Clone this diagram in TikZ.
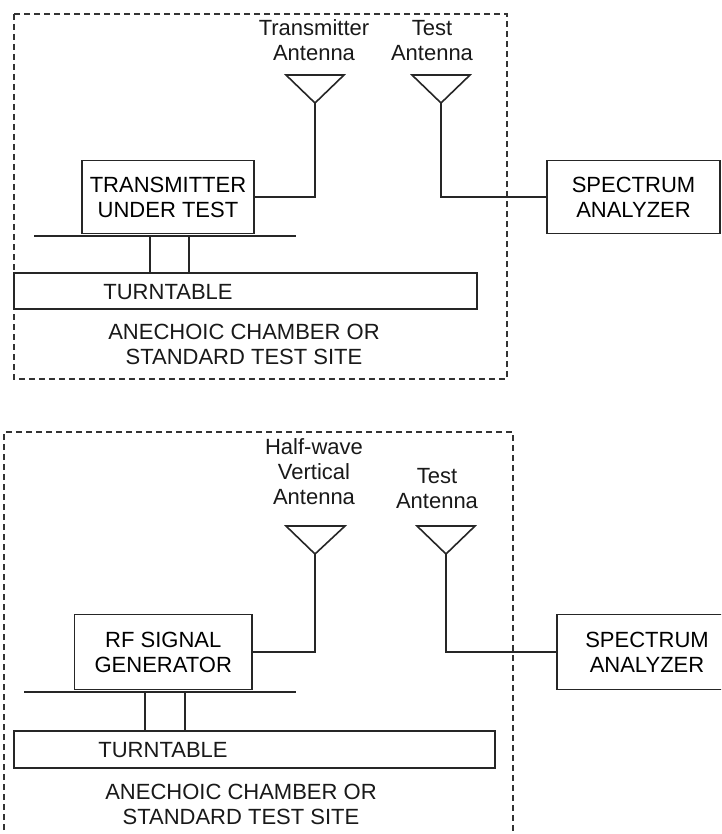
\documentclass[tikz,border=0pt]{standalone}
\usepackage{fontspec}
\setmainfont{Liberation Sans}
\begin{document}
\begin{tikzpicture}[x=1pt,y=-1pt,
  ln/.style={draw=black!85, line width=1.6pt},
  dsh/.style={draw=black!80, line width=1.5pt, dash pattern=on 6pt off 4pt},
  boxn/.style={ln, rectangle, inner sep=0pt, align=center, font=\fontsize{22}{25}\selectfont},
  lbl/.style={inner sep=0pt, align=center, text=black!90, font=\fontsize{22}{25}\selectfont},
  ant/.style={ln, line join=miter}]
\clip (0,0) rectangle (721,834);
\useasboundingbox (0,0) rectangle (721,834);
\fill[white] (0,0) rectangle (721,834);

% ===== top section =====
\draw[dsh] (14,14) rectangle (507,379);
\node[lbl] (lt1) at (314,40.5) {Transmitter\\Antenna};
\node[lbl] (lt2) at (432,40.5) {Test\\Antenna};
\coordinate (a1) at (315,103);
\coordinate (a2) at (441,103);
\draw[ant] (286,75) -- (344,75) -- (a1) -- cycle;
\draw[ant] (412,75) -- (470,75) -- (a2) -- cycle;
\node[boxn, minimum width=172pt, minimum height=73pt] (tx) at (168,197) {TRANSMITTER\\UNDER TEST};
\node[boxn, minimum width=173pt, minimum height=73pt] (sa1) at (633.5,197) {SPECTRUM\\ANALYZER};
\draw[ln] (a1) |- (tx.east);
\draw[ln] (a2) |- (sa1.west);
\draw[ln] (34,236) -- (296,236);
\node[boxn, minimum width=463pt, minimum height=36pt] (tt1) at (245.5,291) {};
\draw[ln] (150,236) -- (150,273);
\draw[ln] (189,236) -- (189,273);
\node[lbl] (tt1l) at (168,292) {TURNTABLE};
\node[lbl] (ac1) at (244,344.5) {ANECHOIC CHAMBER OR\\STANDARD TEST SITE};

% ===== bottom section =====
\draw[dsh] (4,840) -- (4,432) -- (513,432) -- (513,840);
\node[lbl] (lb1) at (314,472) {Half-wave\\Vertical\\Antenna};
\node[lbl] (lb2) at (437,489) {Test\\Antenna};
\coordinate (b1) at (315,554);
\coordinate (b2) at (446,554);
\draw[ant] (286,526) -- (345,526) -- (b1) -- cycle;
\draw[ant] (417,526) -- (475,526) -- (b2) -- cycle;
\node[boxn, minimum width=177.5pt, minimum height=75pt] (rf) at (163.25,652) {RF SIGNAL\\GENERATOR};
\node[boxn, minimum width=180pt, minimum height=75pt] (sa2) at (647,652) {SPECTRUM\\ANALYZER};
\draw[ln] (b1) |- (rf.east);
\draw[ln] (b2) |- (sa2.west);
\draw[ln] (24,692) -- (296,692);
\node[boxn, minimum width=481pt, minimum height=37pt] (tt2) at (254.5,749.5) {};
\draw[ln] (145,692) -- (145,731);
\draw[ln] (185,692) -- (185,731);
\node[lbl] (tt2l) at (163,750) {TURNTABLE};
\node[lbl] (ac2) at (241,804.5) {ANECHOIC CHAMBER OR\\STANDARD TEST SITE};
\end{tikzpicture}
\end{document}
